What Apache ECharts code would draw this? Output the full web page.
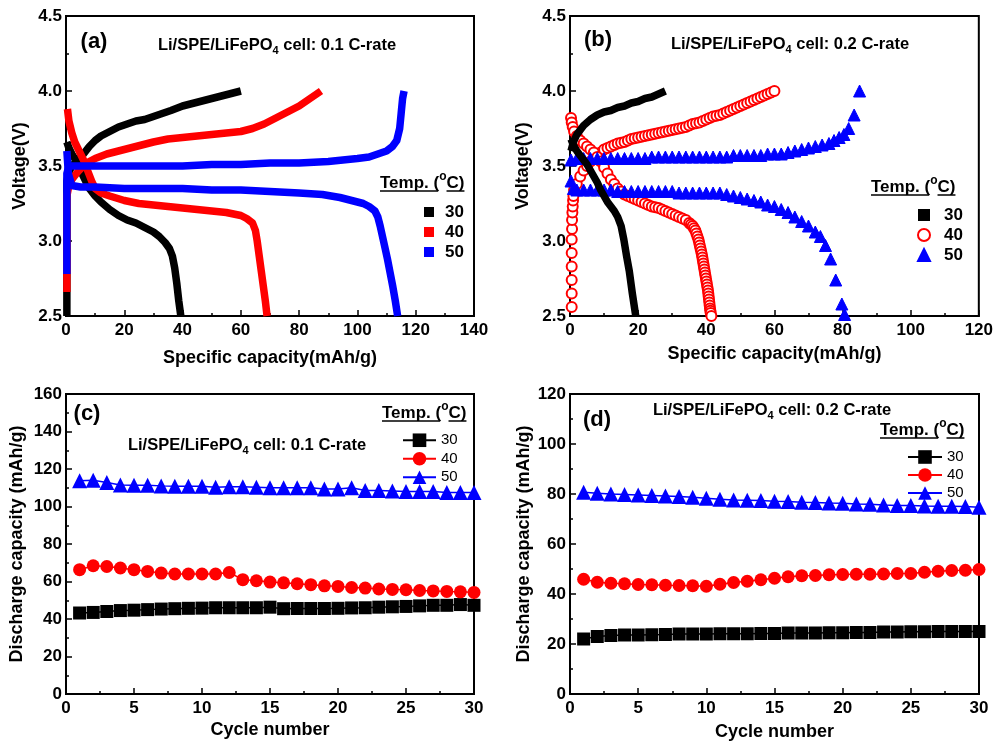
<!DOCTYPE html>
<html>
<head>
<meta charset="utf-8">
<script src="https://cdn.jsdelivr.net/npm/echarts@6/dist/echarts.min.js"></script>
<style>
html,body{margin:0;padding:0;background:#fff;}
#main{width:996px;height:743px;}
</style>
</head>
<body>
<div id="main"></div>
<script>
// ---- data ----
// (a) 0.1 C charge / discharge curves [capacity, voltage]
var a30Charge=[[0.3,2.5],[0.3,3.4],[1,3.46],[2,3.5],[4,3.54],[6,3.58],[8,3.63],[10,3.67],[12,3.7],[15,3.73],[18,3.76],[21,3.78],[24,3.8],[27,3.81],[30,3.83],[33,3.85],[36,3.87],[40,3.9],[44,3.92],[48,3.94],[52,3.96],[56,3.98],[60,4.0]];
var a30Dis=[[0.3,3.66],[1,3.62],[2,3.58],[3,3.55],[4,3.51],[5,3.47],[6,3.43],[7,3.39],[8,3.35],[10,3.3],[12,3.26],[15,3.21],[18,3.17],[21,3.14],[24,3.12],[27,3.09],[30,3.06],[32,3.03],[34,2.99],[35.5,2.95],[36.5,2.9],[37.3,2.82],[38,2.72],[38.7,2.6],[39.4,2.5]];
var a40Charge=[[0.3,2.66],[0.3,3.3],[1,3.37],[2,3.41],[4,3.46],[6,3.5],[8,3.53],[10,3.55],[14,3.58],[18,3.6],[22,3.62],[26,3.64],[30,3.66],[35,3.68],[40,3.69],[45,3.7],[50,3.71],[55,3.72],[60,3.73],[64,3.75],[68,3.78],[72,3.82],[76,3.86],[80,3.9],[83,3.94],[86,3.98],[87.5,4.0]];
var a40Dis=[[0.5,3.88],[1,3.8],[2,3.72],[3,3.66],[4,3.62],[5,3.58],[6,3.54],[7,3.49],[8,3.44],[9,3.39],[10,3.35],[12,3.32],[15,3.3],[20,3.27],[25,3.25],[30,3.24],[35,3.23],[40,3.22],[45,3.21],[50,3.2],[55,3.19],[60,3.17],[62,3.15],[64,3.12],[65,3.07],[65.6,3.0],[66.3,2.9],[67,2.8],[67.7,2.7],[68.4,2.6],[69,2.5]];
var a50Charge=[[0.3,2.78],[0.3,3.45],[1,3.5],[5,3.5],[10,3.5],[20,3.5],[30,3.5],[40,3.5],[50,3.51],[60,3.51],[70,3.52],[80,3.52],[90,3.53],[95,3.54],[100,3.55],[104,3.56],[107,3.58],[110,3.6],[112,3.63],[113.5,3.67],[114.5,3.75],[115,3.85],[115.5,3.95],[116,4.0]];
var a50Dis=[[0.3,3.6],[0.8,3.45],[2,3.37],[5,3.36],[10,3.36],[20,3.35],[30,3.35],[40,3.35],[50,3.34],[60,3.34],[70,3.33],[80,3.32],[88,3.31],[94,3.29],[98,3.27],[102,3.25],[104,3.23],[106,3.2],[107,3.16],[107.8,3.1],[108.6,3.03],[109.4,2.96],[110.3,2.88],[111.2,2.79],[112.1,2.7],[113,2.6],[113.8,2.5]];

// (b) 0.2 C charge / discharge curves
var b30Charge=[[0.3,3.6],[1,3.66],[2,3.71],[3,3.74],[4,3.77],[6,3.81],[8,3.84],[10,3.86],[12,3.87],[14,3.89],[16,3.9],[18,3.92],[20,3.93],[22,3.95],[24,3.96],[26,3.98],[28,4.0]];
var b30Dis=[[0.3,3.68],[1,3.64],[2,3.6],[3,3.57],[4,3.54],[5,3.51],[6,3.47],[7,3.43],[8,3.39],[9,3.34],[10,3.3],[11,3.26],[12,3.23],[13,3.2],[14,3.16],[15,3.1],[15.8,3.01],[16.6,2.9],[17.4,2.8],[18.3,2.65],[19.3,2.5]];
var b40Charge=[[0.5,2.56],[0.5,2.65],[0.5,2.74],[0.5,2.83],[0.5,2.92],[0.5,3.01],[0.6,3.08],[0.6,3.14],[0.7,3.19],[0.8,3.23],[0.9,3.27],[1,3.3],[1.2,3.34],[2,3.38],[3,3.43],[4,3.47],[5,3.5],[6,3.53],[7,3.55],[8,3.57],[9,3.59],[10,3.61],[11,3.62],[12,3.63],[13,3.64],[14,3.65],[15,3.655],[16,3.66],[17,3.67],[18,3.68],[19,3.685],[20,3.69],[21,3.695],[22,3.7],[23,3.705],[24,3.71],[25,3.715],[26,3.72],[27,3.725],[28,3.73],[29,3.735],[30,3.74],[31,3.745],[32,3.75],[33,3.755],[34,3.76],[35,3.77],[36,3.78],[37,3.785],[38,3.79],[39,3.8],[40,3.81],[41,3.82],[42,3.83],[43,3.835],[44,3.84],[45,3.85],[46,3.86],[47,3.87],[48,3.88],[49,3.89],[50,3.9],[51,3.91],[52,3.92],[53,3.93],[54,3.94],[55,3.95],[56,3.96],[57,3.97],[58,3.98],[59,3.99],[60,4.0]];
var b40Dis=[[0.3,3.82],[0.5,3.79],[0.8,3.76],[1.2,3.73],[2,3.7],[3,3.67],[4,3.65],[5,3.63],[6,3.61],[7,3.59],[8,3.56],[9,3.53],[10,3.49],[11,3.45],[12,3.41],[13,3.38],[14,3.35],[15,3.33],[16,3.31],[17,3.3],[18,3.29],[19,3.28],[20,3.27],[21,3.26],[22,3.25],[23,3.24],[24,3.23],[25,3.225],[26,3.22],[27,3.21],[28,3.2],[29,3.19],[30,3.18],[31,3.17],[32,3.16],[33,3.15],[34,3.14],[35,3.12],[35.5,3.11],[36,3.1],[36.4,3.085],[36.8,3.07],[37.1,3.05],[37.4,3.03],[37.7,3.01],[37.9,2.99],[38.1,2.97],[38.3,2.95],[38.5,2.93],[38.7,2.91],[38.85,2.89],[39.0,2.87],[39.15,2.85],[39.3,2.83],[39.45,2.81],[39.6,2.79],[39.75,2.77],[39.9,2.75],[40.05,2.73],[40.2,2.71],[40.35,2.69],[40.5,2.67],[40.6,2.65],[40.7,2.63],[40.8,2.61],[40.9,2.59],[41.0,2.57],[41.1,2.55],[41.2,2.535],[41.3,2.52],[41.5,2.5]];
var b50Charge=[[0.3,3.54],[2,3.55],[4,3.55],[6,3.55],[8,3.55],[10,3.55],[12,3.55],[14,3.55],[16,3.55],[18,3.55],[20,3.55],[22,3.55],[24,3.56],[26,3.56],[28,3.56],[30,3.56],[32,3.56],[34,3.56],[36,3.56],[38,3.56],[40,3.56],[42,3.56],[44,3.56],[46,3.56],[48,3.57],[50,3.57],[52,3.57],[54,3.57],[56,3.57],[58,3.58],[60,3.58],[62,3.58],[64,3.59],[66,3.6],[68,3.61],[70,3.62],[72,3.63],[74,3.64],[76,3.65],[77.5,3.67],[79,3.69],[80.4,3.71],[81.8,3.75],[83.4,3.84],[85,4.0]];
var b50Dis=[[0.3,3.4],[1,3.35],[2,3.34],[4,3.34],[6,3.34],[8,3.34],[10,3.34],[12,3.34],[14,3.33],[16,3.33],[18,3.33],[20,3.33],[22,3.33],[24,3.33],[26,3.33],[28,3.33],[30,3.33],[32,3.32],[34,3.32],[36,3.32],[38,3.32],[40,3.32],[42,3.32],[44,3.32],[46,3.31],[48,3.3],[50,3.29],[52,3.28],[54,3.27],[56,3.26],[58,3.24],[60,3.23],[62,3.21],[64,3.19],[66,3.16],[68,3.13],[70,3.1],[72,3.06],[73.5,3.03],[75,2.97],[76.5,2.88],[78,2.74],[79.8,2.58],[80.6,2.51]];

// (c) / (d) cycling, discharge capacity per cycle
var cycles=[1,2,3,4,5,6,7,8,9,10,11,12,13,14,15,16,17,18,19,20,21,22,23,24,25,26,27,28,29,30];
var c30=[43.2,43.5,44,44.5,44.7,45,45.3,45.5,45.7,45.8,46,46,46,46,46.3,45.5,45.6,45.6,45.6,45.7,45.9,46,46.3,46.5,46.7,47,47.3,47.3,47.7,47.3];
var c40=[66.3,68.4,68,67.2,66.3,65.4,64.5,64,64,64,64,64.8,61,60.4,59.7,59.3,58.8,58.3,57.7,57.4,56.8,56.5,56,55.8,55.6,55.2,55,54.7,54.5,54.2];
var c50=[113.7,114,112.8,111.5,111.3,111.3,111,110.8,110.8,110.8,110.3,110.5,110.5,110.3,110,110,110,110,109.3,109.3,110,108.5,108.5,108.3,108,108,108,107.5,107.5,107.5];
var d30=[22,23,23.4,23.6,23.6,23.7,23.8,24,24,24,24.1,24.1,24.1,24.2,24.2,24.4,24.4,24.4,24.5,24.5,24.6,24.6,24.8,24.8,24.9,24.9,25,25,25,25];
var d40=[45.9,44.7,44.3,44.1,43.8,43.7,43.5,43.4,43.3,43.1,43.9,44.6,45.1,45.7,46.3,46.9,47.3,47.4,47.7,47.8,47.9,47.9,48,48.2,48.2,48.7,49.1,49.4,49.5,49.8];
var d50=[80.7,80.3,80,79.8,79.6,79.4,79.2,79,78.7,78.3,77.9,77.6,77.5,77.4,77.1,77,76.7,76.6,76.4,76.3,76,75.9,75.6,75.4,75.4,75.2,75.1,75.1,75,74.7];

// ---- chart ----
var F='Liberation Sans';
var BLACK='#000000', RED='#ff0000', BLUE='#0000ff';

var ctx=document.createElement('canvas').getContext('2d');
function tw(font,s){ ctx.font=font; return ctx.measureText(s).width; }

function pairs(xs,ys){
	var out=[];
	for(var i=0;i<xs.length;i++){ out.push([xs[i],ys[i]]); }
	return out;
}

function xAx(gi,min,max,interval,name,gap){
	return {
		type:'value',gridIndex:gi,min:min,max:max,interval:interval,
		name:name,nameLocation:'middle',nameGap:gap,
		nameTextStyle:{fontFamily:F,fontWeight:'bold',fontSize:18,color:'#000'},
		axisLine:{show:true,onZero:false,lineStyle:{color:'#000',width:2}},
		axisTick:{inside:true,length:6,lineStyle:{color:'#000',width:1.5}},
		minorTick:{show:true,splitNumber:2,length:3,lineStyle:{color:'#000',width:1.5}},
		axisLabel:{fontFamily:F,fontWeight:'bold',fontSize:17,color:'#000',margin:6},
		splitLine:{show:false}
	};
}
function yAx(gi,min,max,interval,name,gap,fmt){
	var ax=xAx(gi,min,max,interval,name,gap);
	ax.axisLabel.margin=4;
	if(fmt){ ax.axisLabel.formatter=fmt; }
	return ax;
}
function band(name,data,color,gi){
	return {name:name,type:'line',xAxisIndex:gi,yAxisIndex:gi,data:data,
		symbol:'none',showSymbol:false,
		lineStyle:{color:color,width:7.5,join:'round'},itemStyle:{color:color}};
}
function dots(name,data,color,symbol,size,gi){
	return {name:name,type:'scatter',xAxisIndex:gi,yAxisIndex:gi,data:data,
		symbol:symbol,symbolSize:size,
		itemStyle:{color:color,borderColor:color,borderWidth:1,opacity:1}};
}
function cyc(name,vals,color,symbol,gi){
	return {name:name,type:'line',xAxisIndex:gi,yAxisIndex:gi,data:pairs(cycles,vals),
		symbol:symbol,symbolSize:symbol==='triangle'?15:13,
		lineStyle:{color:color,width:1.5},itemStyle:{color:color}};
}

function txt(x,y,s,font,align){
	return {type:'text',x:x,y:y,style:{text:s,fill:'#000',font:font,
		textAlign:align,textVerticalAlign:'middle',align:align,verticalAlign:'middle'}};
}
function panelText(x,y,s){ return txt(x,y,s,'bold 22px '+F,'center'); }
function cellText(cx,y,rate){
	var fn='bold 16.5px '+F, fs='bold 11px '+F;
	var s1='Li/SPE/LiFePO', s2='4', s3=' cell: '+rate+' C-rate';
	var w1=tw(fn,s1), w2=tw(fs,s2), w3=tw(fn,s3);
	var x0=cx-(w1+w2+w3)/2;
	return [txt(x0,y,s1,fn,'left'),txt(x0+w1,y+6,s2,fs,'left'),txt(x0+w1+w2,y,s3,fn,'left')];
}
function tempHead(x,y){
	var fn='bold 17px '+F, fs='bold 12px '+F;
	var w1=tw(fn,'Temp. ('), w2=tw(fs,'o'), w3=tw(fn,'C)');
	return [
		txt(x,y,'Temp. (',fn,'left'),
		txt(x+w1,y-6,'o',fs,'left'),
		txt(x+w1+w2,y,'C)',fn,'left'),
		{type:'line',shape:{x1:x,y1:y+8,x2:x+w1-1,y2:y+8},style:{stroke:'#000',lineWidth:1.5}},
		{type:'line',shape:{x1:x+w1+w2,y1:y+8,x2:x+w1+w2+w3,y2:y+8},style:{stroke:'#000',lineWidth:1.5}}
	];
}
function legendFor(names,icons,left,top,w,h,step,bold,pad){
	var data=[];
	for(var i=0;i<names.length;i++){
		var it={name:names[i]};
		if(icons){ it.icon=icons[i]; }
		data.push(it);
	}
	return {data:data,orient:'vertical',left:left,top:top,itemWidth:w,itemHeight:h,itemGap:0,
		selectedMode:false,
		formatter:function(n){ return n.slice(1); },
		textStyle:{fontFamily:F,fontWeight:bold?'bold':'normal',fontSize:bold?17:15,color:'#000',
			lineHeight:step,padding:[0,0,0,pad]}};
}

function grid(l,t,w,h){
	return {left:l,top:t,width:w,height:h,show:true,borderColor:'#000',borderWidth:2,backgroundColor:'transparent'};
}

var fmt1=function(v){ return v.toFixed(1); };

var option={
	animation:false,
	backgroundColor:'#fff',
	grid:[grid(66,16,408,300),grid(570,16,409,300),grid(66,394,408,300),grid(570,394,409,300)],
	xAxis:[
		xAx(0,0,140,20,'Specific capacity(mAh/g)',33),
		xAx(1,0,120,20,'Specific capacity(mAh/g)',29),
		xAx(2,0,30,5,'Cycle number',27),
		xAx(3,0,30,5,'Cycle number',29)
	],
	yAxis:[
		yAx(0,2.5,4.5,0.5,'Voltage(V)',37,fmt1),
		yAx(1,2.5,4.5,0.5,'Voltage(V)',38,fmt1),
		yAx(2,0,160,20,'Discharge capacity (mAh/g)',40),
		yAx(3,0,120,20,'Discharge capacity (mAh/g)',37)
	],
	legend:[
		legendFor(['a30','a40','a50'],['rect','rect','rect'],419,197,10,10,20,true,6),
		legendFor(['b30','b40','b50'],['rect','emptyCircle','triangle'],912,200,12,12,20,true,9),
		legendFor(['c30','c40','c50'],null,397,426,33,17,18.5,false,0),
		legendFor(['d30','d40','d50'],null,902,443,34,17,18,false,0)
	],
	series:[
		band('a30',a30Charge,BLACK,0),band('a30',a30Dis,BLACK,0),
		band('a40',a40Charge,RED,0),band('a40',a40Dis,RED,0),
		band('a50',a50Charge,BLUE,0),band('a50',a50Dis,BLUE,0),
		band('b30',b30Charge,BLACK,1),band('b30',b30Dis,BLACK,1),
		dots('b40',b40Charge,RED,'emptyCircle',10,1),dots('b40',b40Dis,RED,'emptyCircle',10,1),
		dots('b50',b50Charge,BLUE,'triangle',12,1),dots('b50',b50Dis,BLUE,'triangle',12,1),
		cyc('c30',c30,BLACK,'rect',2),cyc('c40',c40,RED,'circle',2),cyc('c50',c50,BLUE,'triangle',2),
		cyc('d30',d30,BLACK,'rect',3),cyc('d40',d40,RED,'circle',3),cyc('d50',d50,BLUE,'triangle',3)
	],
	graphic:[
		panelText(94,42,'(a)'),panelText(598,40,'(b)'),
		panelText(87,414,'(c)'),panelText(597,420,'(d)')
	].concat(
		cellText(277,45,'0.1'),cellText(790,44,'0.2'),
		cellText(247,445,'0.1'),cellText(772,410,'0.2'),
		tempHead(380,183),tempHead(871,187),tempHead(382,413),tempHead(880,430))
};

var myChart=echarts.init(document.getElementById('main'));
myChart.setOption(option);
</script>
</body>
</html>
